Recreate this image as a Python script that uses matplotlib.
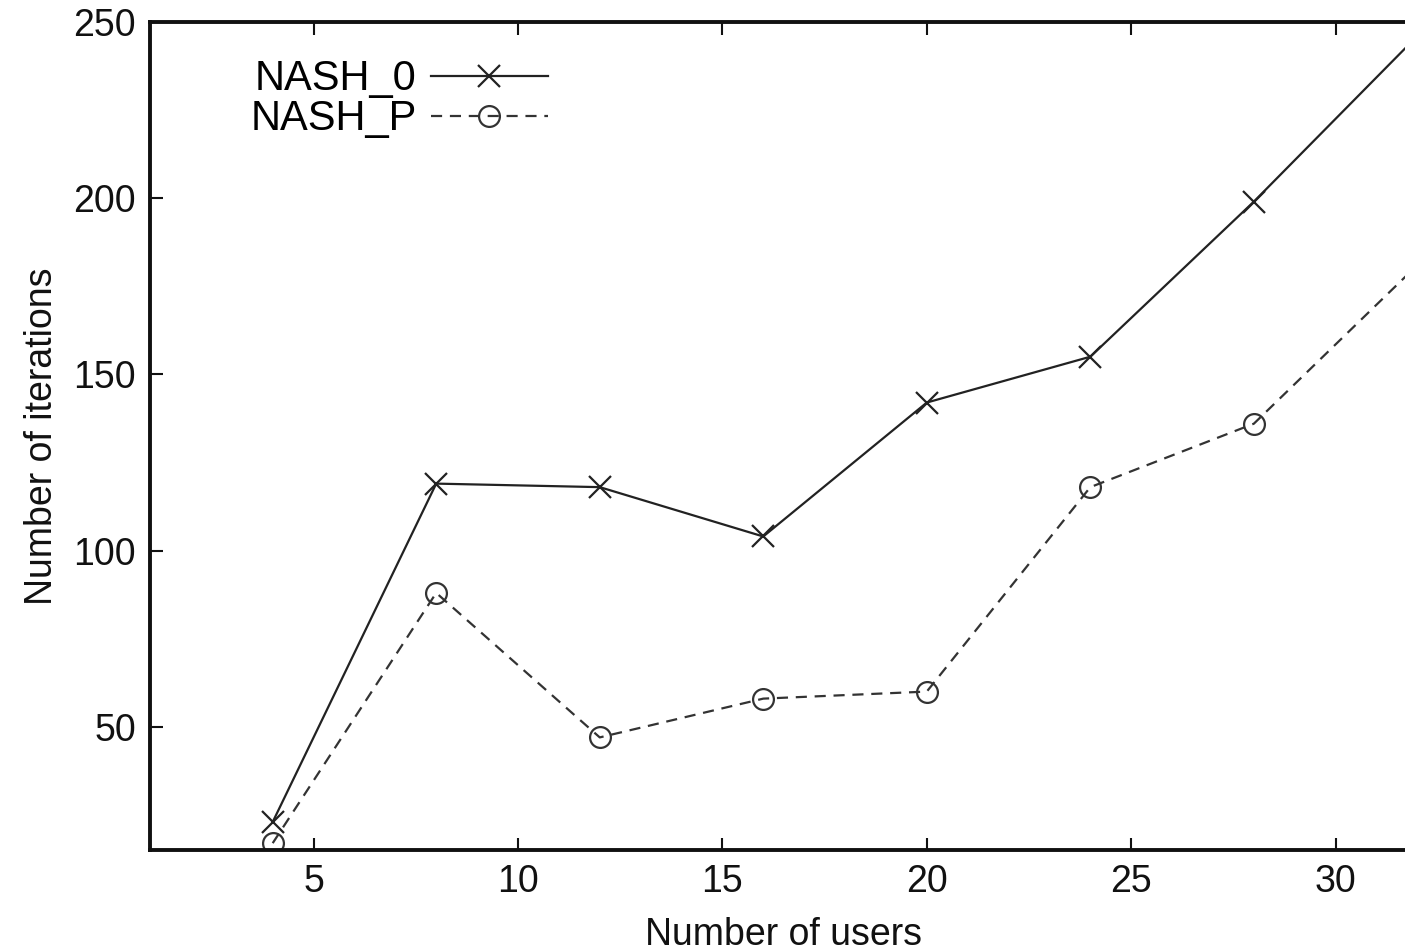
import matplotlib.pyplot as plt

plt.rcParams["font.family"] = ["Liberation Sans", "DejaVu Sans"]

users = [4, 8, 12, 16, 20, 24, 28, 32]
nash_0 = [23, 119, 118, 104, 142, 155, 199, 246]
nash_p = [17, 88, 47, 58, 60, 118, 136, 181]
x_ticks = [5, 10, 15, 20, 25, 30]
y_ticks = [50, 100, 150, 200, 250]

fig = plt.figure(figsize=(14.05, 9.51), dpi=100)
ax = fig.add_axes([0.1068, 0.106, 0.902, 0.871])

ax.plot(users, nash_0, color="#222", lw=1.6, marker="x", ms=16, mew=1.6,
        label="NASH_0")
ax.plot(users, nash_p, color="#333", lw=1.6, ls=(0, (5, 3.5)), marker="o",
        ms=15, mfc="none", mew=1.6, label="NASH_P")

ax.set_xlim(1, 32)
ax.set_ylim(15, 250)
ax.set_xticks(x_ticks)
ax.set_yticks(y_ticks)
ax.tick_params(direction="in", length=9, width=1.5, top=True, right=True,
               labelsize=27, pad=10, colors="#111")
for s in ax.spines.values():
    s.set_linewidth(2.8)
    s.set_color("#111")

ax.set_xlabel("Number of users", fontsize=27, labelpad=12, color="#111")
ax.set_ylabel("Number of iterations", fontsize=27, labelpad=10, color="#111")

ax.legend(loc="upper left", bbox_to_anchor=(0.079, 0.955), frameon=False,
          markerfirst=False, fontsize=30, handlelength=2.8, handletextpad=0.35,
          labelspacing=0.0, borderpad=0, borderaxespad=0)

fig.savefig("out.png", dpi=100)
